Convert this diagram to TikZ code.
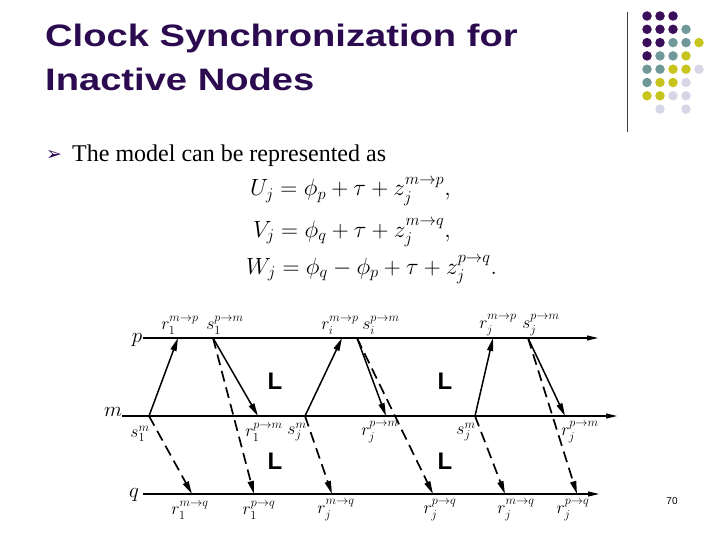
\RequirePackage{fix-cm}
\documentclass[tikz,border=0pt]{standalone}
\usepackage{amsmath}
\usepackage{graphicx}
\usepackage{fontspec}
\setmainfont{Liberation Serif}
\newfontfamily\headfont{Liberation Sans}
\newfontfamily\symfont{DejaVu Sans}
\usetikzlibrary{arrows.meta}
\definecolor{titlepurple}{RGB}{44,10,80}
\definecolor{dotpurple}{RGB}{58,14,88}
\definecolor{dotteal}{RGB}{112,152,152}
\definecolor{dotyellow}{RGB}{200,196,30}
\definecolor{dotlilac}{RGB}{214,214,230}

\tikzset{
  timeline/.style={line width=1.1pt, -{Triangle[length=11pt,width=5pt]}},
  msg/.style={line width=1.5pt, -{Triangle[length=13pt,width=6pt]}},
  relay/.style={msg, line width=1.7pt, dash pattern=on 11pt off 6pt},
  evlabel/.style={inner sep=0pt, font=\fontsize{17.5}{17.5}\selectfont},
  lanelabel/.style={inner sep=0pt, font=\fontsize{21}{21}\selectfont},
  gapmark/.style={inner sep=0pt, font=\headfont\bfseries\fontsize{24}{24}\selectfont},
  titleline/.style={anchor=base west, inner sep=0pt, text=titlepurple,
                    font=\headfont\bfseries\fontsize{31}{31}\selectfont},
  dot/.style={circle, inner sep=0pt, minimum size=9.5pt}
}

\begin{document}
\begin{tikzpicture}[x=1pt, y=-1pt]
    \useasboundingbox (0,0) rectangle (720,540);

    % title and text
    \node[titleline] (title1) at (45,47) {\scalebox{1.23}[1]{Clock Synchronization for}};
    \node[titleline] (title2) at (45,91) {\scalebox{1.23}[1]{Inactive Nodes}};
    \node[anchor=base west, inner sep=0pt, text=titlepurple,
          font=\symfont\fontsize{19}{19}\selectfont] (bullet) at (46,161) {➢};
    \node[anchor=base west, inner sep=0pt, font=\fontsize{24}{24}\selectfont] (intro) at (72,162) {The model can be represented as};

    % equations
    \node[anchor=base west, inner sep=0pt, font=\fontsize{23.5}{23.5}\selectfont] (equ) at (250,196)
        {$U_j = \phi_p + \tau + z_j^{m\to p},$};
    \node[anchor=base west, inner sep=0pt, font=\fontsize{23.5}{23.5}\selectfont] (eqv) at (253,237)
        {$V_j = \phi_q + \tau + z_j^{m\to q},$};
    \node[anchor=base west, inner sep=0pt, font=\fontsize{23.5}{23.5}\selectfont] (eqw) at (246,274)
        {$W_j = \phi_q - \phi_p + \tau + z_j^{p\to q}.$};

    % logo
    \draw[line width=0.8pt, black!75] (627,12) -- (627,132);
    \foreach \cx/\cy in {1/1,2/1,3/1,1/2,2/2,3/2,1/3,2/3,1/4}
        \node[dot, fill=dotpurple] at ({647+13*(\cx-1)},{16+13.3*(\cy-1)}) {};
    \foreach \cx/\cy in {4/2,3/3,4/3,2/4,3/4,1/5,2/5,1/6}
        \node[dot, fill=dotteal] at ({647+13*(\cx-1)},{16+13.3*(\cy-1)}) {};
    \foreach \cx/\cy in {5/3,4/4,3/5,4/5,2/6,3/6,1/7,2/7}
        \node[dot, fill=dotyellow] at ({647+13*(\cx-1)},{16+13.3*(\cy-1)}) {};
    \foreach \cx/\cy in {5/5,4/6,3/7,4/7,2/8,4/8}
        \node[dot, fill=dotlilac] at ({647+13*(\cx-1)},{16+13.3*(\cy-1)}) {};

    % time lines
    \coordinate (pstart) at (143,338);
    \coordinate (pend) at (598,338);
    \coordinate (mstart) at (122,416);
    \coordinate (mend) at (617,416);
    \coordinate (qstart) at (143,494);
    \coordinate (qend) at (599,494);
    \draw[timeline] (pstart) -- (pend);
    \draw[timeline] (mstart) -- (mend);
    \draw[timeline] (qstart) -- (qend);
    \node[lanelabel] (lanep) at (137,340) {$p$};
    \node[lanelabel] (lanem) at (113,412) {$m$};
    \node[lanelabel] (laneq) at (134,495) {$q$};

    % events on p
    \coordinate (rp1) at (178,338);
    \coordinate (sp1) at (213,338);
    \coordinate (rpi) at (342,338);
    \coordinate (spi) at (357,338);
    \coordinate (rpj) at (493,338);
    \coordinate (spj) at (528,338);
    % events on m
    \coordinate (sm1) at (149,416);
    \coordinate (rm1) at (258,416);
    \coordinate (smi) at (305,416);
    \coordinate (rmi) at (386,416);
    \coordinate (smj) at (475,416);
    \coordinate (rmj) at (565,416);
    % events on q
    \coordinate (rmq1) at (192,494);
    \coordinate (rpq1) at (254,494);
    \coordinate (rmqi) at (332,494);
    \coordinate (rpqi) at (433,494);
    \coordinate (rmqj) at (505,494);
    \coordinate (rpqj) at (577,494);

    % messages
    \draw[msg] (sm1) -- (rp1);
    \draw[msg] (smi) -- (rpi);
    \draw[msg] (smj) -- (rpj);
    \draw[msg] (sp1) -- (rm1);
    \draw[msg] (spi) -- (rmi);
    \draw[msg] (spj) -- (rmj);
    \draw[relay] (sp1) -- (rpq1);
    \draw[relay] (spi) -- (rpqi);
    \draw[relay] (spj) -- (rpqj);
    \draw[relay] (sm1) -- (rmq1);
    \draw[relay] (smi) -- (rmqi);
    \draw[relay] (smj) -- (rmqj);

    % labels above p
    \node[evlabel] (lrp1) at (180,325) {$r_1^{m\to p}$};
    \node[evlabel] (lsp1) at (225,325) {$s_1^{p\to m}$};
    \node[evlabel] (lrpi) at (340,325) {$r_i^{m\to p}$};
    \node[evlabel] (lspi) at (381,325) {$s_i^{p\to m}$};
    \node[evlabel] (lrpj) at (498,325) {$r_j^{m\to p}$};
    \node[evlabel] (lspj) at (541,325) {$s_j^{p\to m}$};
    % labels below m
    \node[evlabel] (lsm1) at (140,434) {$s_1^m$};
    \node[evlabel] (lrm1) at (264,432) {$r_1^{p\to m}$};
    \node[evlabel] (lsmi) at (297,432) {$s_j^m$};
    \node[evlabel] (lrmi) at (380,432) {$r_j^{p\to m}$};
    \node[evlabel] (lsmj) at (466,432) {$s_j^m$};
    \node[evlabel] (lrmj) at (580,432) {$r_j^{p\to m}$};
    % labels below q
    \node[evlabel] (lrmq1) at (190,510) {$r_1^{m\to q}$};
    \node[evlabel] (lrpq1) at (259,510) {$r_1^{p\to q}$};
    \node[evlabel] (lrmqi) at (336,510) {$r_j^{m\to q}$};
    \node[evlabel] (lrpqi) at (440,510) {$r_j^{p\to q}$};
    \node[evlabel] (lrmqj) at (516,510) {$r_j^{m\to q}$};
    \node[evlabel] (lrpqj) at (573,510) {$r_j^{p\to q}$};

    % gaps
    \node[gapmark] (gap1) at (275,381) {L};
    \node[gapmark] (gap2) at (445,381) {L};
    \node[gapmark] (gap3) at (275,461) {L};
    \node[gapmark] (gap4) at (445,461) {L};

    \node[inner sep=0pt, font=\headfont\fontsize{10}{10}\selectfont] (pageno) at (672,501) {70};
\end{tikzpicture}
\end{document}
